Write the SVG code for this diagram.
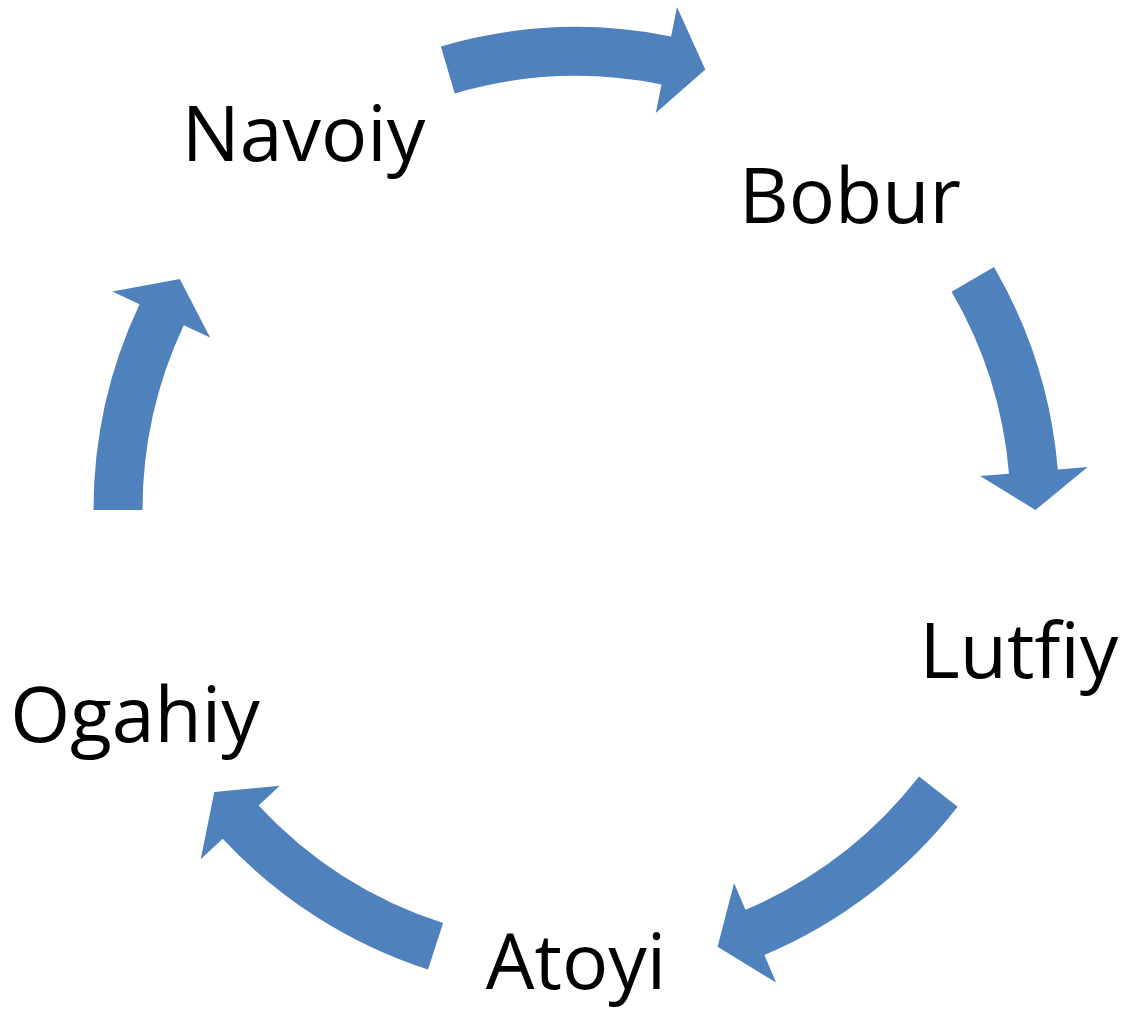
<svg xmlns="http://www.w3.org/2000/svg" width="1129" height="1013" viewBox="0 0 1129 1013">
  <style>
    .arrow { fill: #4F81BD; stroke: none; }
    .label { font-family: "Open Sans", "Noto Sans", "Liberation Sans", sans-serif; font-size: 77px; fill: #000000; text-anchor: middle; }
  </style>
  <rect x="0" y="0" width="1129" height="1013" fill="#FFFFFF"/>
  <g id="connectors">
    <path id="arrow-navoiy-bobur" class="arrow" d="M440.9,46.4 A483,483 0 0 1 671.1,36.4 L677.0,7.0 L705.3,69.5 L655.8,112.9 L661.5,84.4 A434,434 0 0 0 454.7,93.4 Z"/>
    <path id="arrow-bobur-lutfiy" class="arrow" d="M994.0,267.0 A483,483 0 0 1 1057.8,469.6 L1087.7,467.1 L1035.5,510 L980.1,476.1 L1009.0,473.7 A434,434 0 0 0 951.6,291.7 Z"/>
    <path id="arrow-lutfiy-atoyi" class="arrow" d="M957.6,806.7 A483,483 0 0 1 764.4,954.9 L776.1,982.6 L717.6,946.8 L734.1,883.1 L745.4,909.8 A434,434 0 0 0 919.0,776.6 Z"/>
    <path id="arrow-atoyi-ogahiy" class="arrow" d="M428.0,969.6 A483,483 0 0 1 222.7,838.8 L200.7,859.2 L214.3,792.0 L279.8,785.7 L258.6,805.4 A434,434 0 0 0 443.1,923.0 Z"/>
    <path id="arrow-ogahiy-navoiy" class="arrow" d="M93.5,510 A483,483 0 0 1 139.5,304.3 L112.3,291.6 L179.8,279.1 L210.1,337.6 L183.8,325.2 A434,434 0 0 0 142.5,510 Z"/>
  </g>
  <g id="node-navoiy"><text class="label" x="303.5" y="161">Navoiy</text></g>
  <g id="node-bobur"><text class="label" x="850" y="223">Bobur</text></g>
  <g id="node-lutfiy"><text class="label" x="1019" y="678">Lutfiy</text></g>
  <g id="node-atoyi"><text class="label" x="576" y="989">Atoyi</text></g>
  <g id="node-ogahiy"><text class="label" x="135" y="742">Ogahiy</text></g>
</svg>
